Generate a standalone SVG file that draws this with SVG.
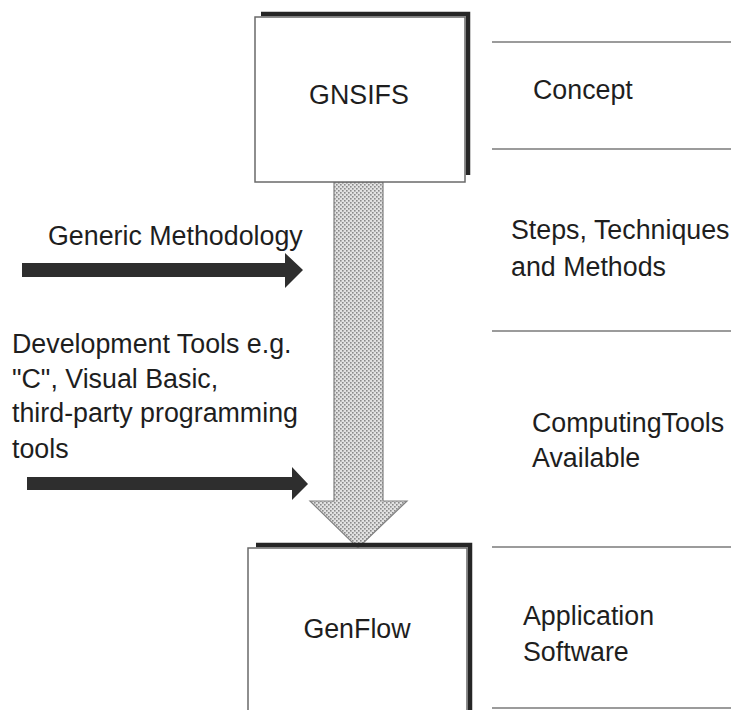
<svg xmlns="http://www.w3.org/2000/svg" width="731" height="710" viewBox="0 0 731 710">
  <style>
    text { font-family: "Liberation Sans", Arial, sans-serif; font-size: 26.8px; fill: #1e1e1e; }
    .frame { fill: #ffffff; stroke: #6a6a6a; stroke-width: 1.5; }
    .shadow { fill: none; stroke: #262626; stroke-width: 4.5; }
    .rule { stroke: #7a7a7a; stroke-width: 1.6; }
    .push { fill: #2e2e2e; }
    .flow { fill: url(#stipple); stroke: #808080; stroke-width: 1.2; }
  </style>
  <defs>
    <!-- speckled grey fill for the main flow arrow -->
    <pattern id="stipple" width="4" height="4" patternUnits="userSpaceOnUse">
      <rect width="4" height="4" fill="#e2e2e2"/>
      <rect x="0" y="0" width="1.6" height="1.6" fill="#8a8a8a"/>
      <rect x="2" y="2" width="1.6" height="1.6" fill="#8a8a8a"/>
    </pattern>
  </defs>

  <!-- level separators on the right -->
  <g id="levels">
    <line class="rule" x1="492" y1="42" x2="731" y2="42"/>
    <line class="rule" x1="492" y1="149" x2="731" y2="149"/>
    <line class="rule" x1="492" y1="331" x2="731" y2="331"/>
    <line class="rule" x1="492" y1="547" x2="731" y2="547"/>
    <line class="rule" x1="492" y1="708" x2="731" y2="708"/>
  </g>

  <g id="level-concept">
    <text x="533" y="99">Concept</text>
  </g>
  <g id="level-steps">
    <text x="511" y="239">Steps, Techniques</text>
    <text x="511" y="276">and Methods</text>
  </g>
  <g id="level-computing">
    <text x="532" y="432">ComputingTools</text>
    <text x="532" y="467">Available</text>
  </g>
  <g id="level-application">
    <text x="523" y="625">Application</text>
    <text x="523" y="661">Software</text>
  </g>

  <!-- connectors -->
  <g id="connectors">
    <!-- main flow from GNSIFS down to GenFlow -->
    <path class="flow" d="M334,182 L383,182 L383,501 L407,501 L358,548 L310,501 L334,501 Z"/>
    <!-- Generic Methodology input -->
    <path class="push" d="M22,263 L285,263 L285,253 L303,270 L285,288 L285,277 L22,277 Z"/>
    <!-- Development Tools input -->
    <path class="push" d="M27,477 L292,477 L292,467 L308,484 L292,500 L292,490 L27,490 Z"/>
  </g>

  <g id="node-gnsifs">
    <polyline class="shadow" points="261,14 468,14 468,175"/>
    <rect class="frame" x="255" y="17" width="210" height="165"/>
    <text x="359" y="104" text-anchor="middle">GNSIFS</text>
  </g>

  <g id="node-genflow">
    <polyline class="shadow" points="256,545 470,545 470,712"/>
    <path class="frame" d="M248,712 L248,548 L467,548 L467,712"/>
    <text x="357" y="638" text-anchor="middle">GenFlow</text>
  </g>

  <g id="label-generic">
    <text x="48" y="245">Generic Methodology</text>
  </g>
  <g id="label-devtools">
    <text x="12" y="353">Development Tools e.g.</text>
    <text x="12" y="388">"C", Visual Basic,</text>
    <text x="12" y="422">third-party programming</text>
    <text x="12" y="458">tools</text>
  </g>
</svg>
